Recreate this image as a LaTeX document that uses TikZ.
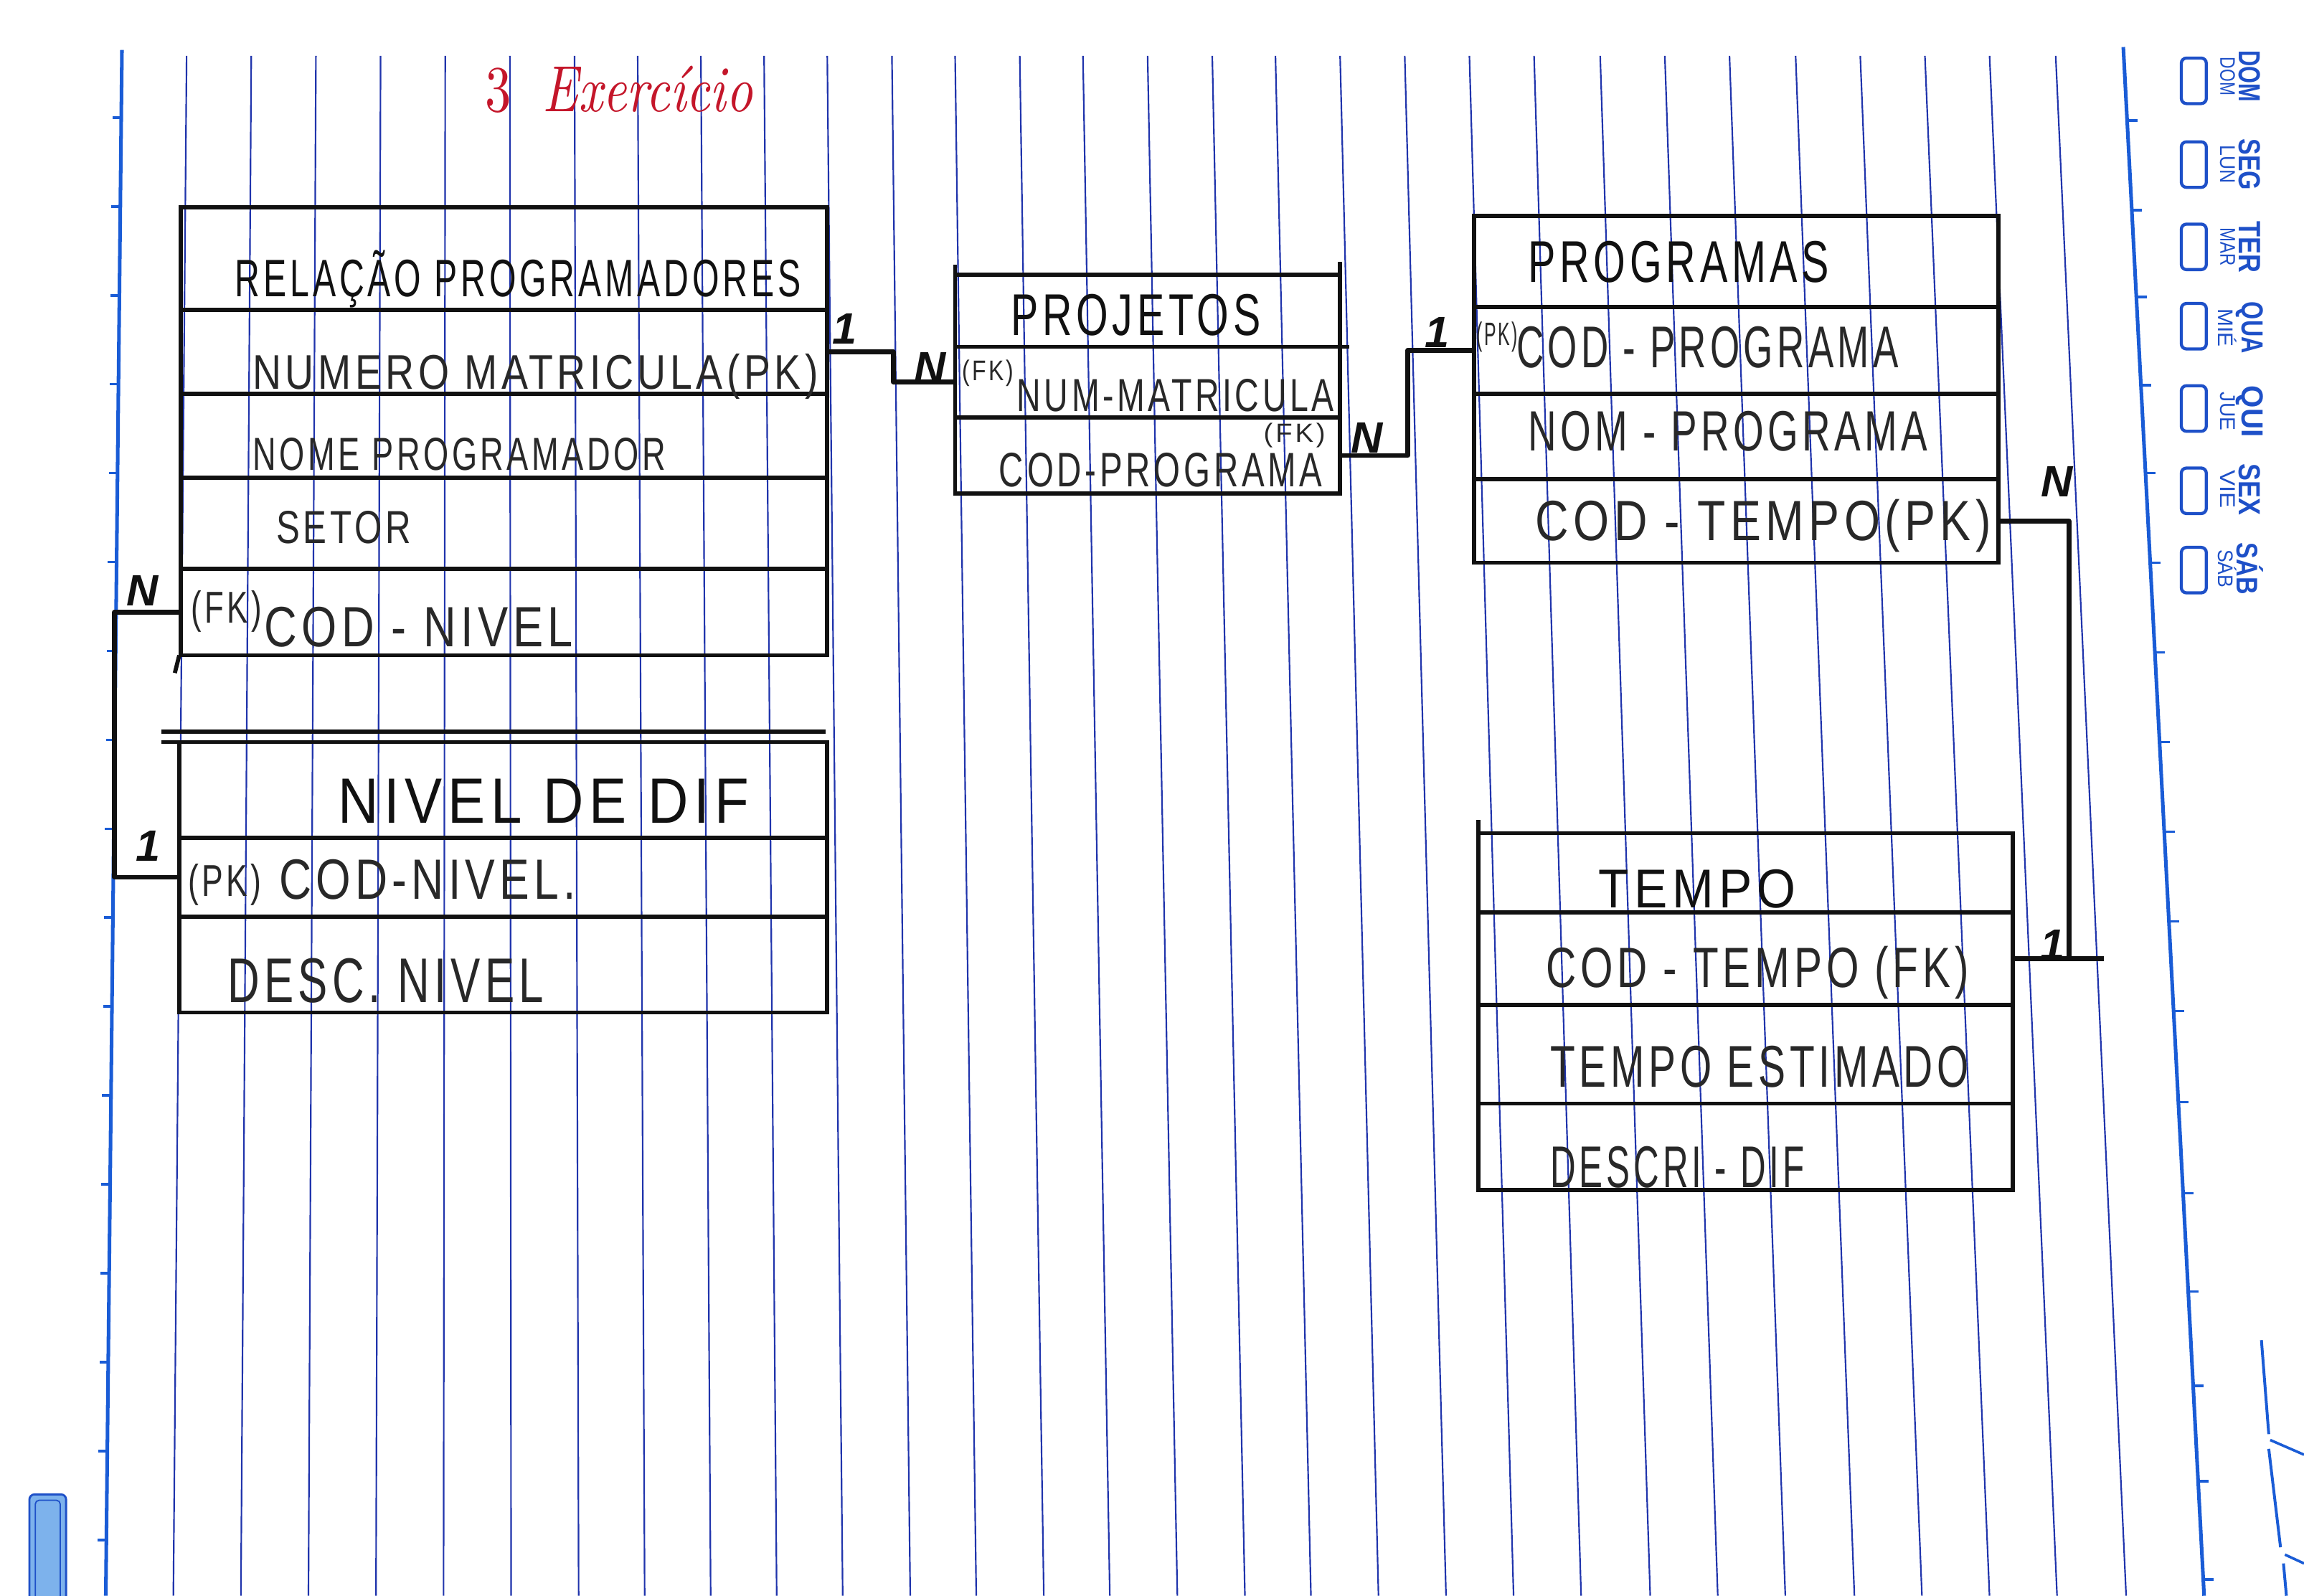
\documentclass[tikz,border=0pt]{standalone}
\usepackage{fontspec}
\usepackage{graphicx}
\newfontfamily\hand[LetterSpace=10]{Liberation Sans}
\newfontfamily\cardfont{Liberation Sans}
\newfontfamily\dayfont{Liberation Sans}
\definecolor{ruleblue}{RGB}{32,52,172}
\definecolor{marginblue}{RGB}{26,92,214}
\definecolor{ink}{RGB}{17,17,17}
\definecolor{pencil}{RGB}{40,40,40}
\definecolor{redink}{RGB}{196,22,42}
\definecolor{stampblue}{RGB}{30,80,200}
\definecolor{stampfill}{RGB}{125,178,236}
% handwritten-looking label fitted to a given width and cap height
\newcommand\hw[3]{\resizebox{#1}{#2}{\hand #3}}
\begin{document}
\begin{tikzpicture}[x=0.02cm,y=-0.02cm,
  row/.style={draw=ink,line width=1.6pt,inner sep=0pt,outer sep=0pt,anchor=north west},
  txt/.style={inner sep=0pt,outer sep=0pt,anchor=base west,text=pencil},
  ttl/.style={txt,text=ink},
  card/.style={inner sep=0pt,text=ink,font=\cardfont\bfseries\itshape\fontsize{17}{17}\selectfont},
  conn/.style={draw=ink,line width=1.9pt,line join=round},
  rule/.style={draw=ruleblue,line width=0.6pt},
  margin/.style={draw=marginblue,line width=1.4pt},
  tick/.style={draw=marginblue,line width=1pt},
  day/.style={text=stampblue,rotate=-90,inner sep=0pt,font=\dayfont\bfseries},
  daybox/.style={draw=stampblue,line width=1.2pt,rounded corners=2pt,minimum width=0.34cm,minimum height=0.62cm,inner sep=0pt}
]
\fill[white] (0,0) rectangle (1568,1086);
\useasboundingbox (0,0) rectangle (1568,1086);

% ---- ruled paper ----
\foreach \x in {127,171,215,259,303,347,391,434,477,520,563,607,650,694,737,781,825,868,912,956,1000,1044,1089,1133,1177,1222,1266,1310,1354,1399}{
  \pgfmathsetmacro\xb{\x-11+(\x-83)/1362*61}
  \draw[rule] (\x,38) -- (\xb,1086);
}
\draw[margin] (83,34) -- (72,1086);
\draw[margin] (1445,32) -- (1500,1086);
\foreach \k in {0,...,16}{
  \pgfmathsetmacro\ty{80+60.5*\k}
  \pgfmathsetmacro\tx{83-(\ty-34)/1052*11}
  \draw[tick] (\tx,\ty) -- ++(-6,0);
}
\foreach \ty in {82,143,202,262,322,383,444,505,566,627,688,750,812,879,943,1008,1075}{
  \pgfmathsetmacro\tx{1445+(\ty-32)/1054*55}
  \draw[tick] (\tx,\ty) -- ++(7,0);
}
% edge strip at the lower right
\draw[rule,line width=1.1pt,draw=marginblue] (1539,912) -- (1544,976);
\draw[rule,line width=1.1pt,draw=marginblue] (1544,986) -- (1552,1053);
\draw[rule,line width=1.1pt,draw=marginblue] (1554,1064) -- (1556,1086);
\draw[rule,line width=1pt,draw=marginblue] (1545,980) -- (1568,990);
\draw[rule,line width=1pt,draw=marginblue] (1555,1058) -- (1568,1064);
% maker's tag, lower left
\draw[draw=stampblue,fill=stampfill,rounded corners=2pt,line width=0.8pt] (20,1017) rectangle (45,1092);
\draw[draw=stampblue,rounded corners=1.5pt,line width=0.5pt] (24,1021) rectangle (41,1092);

% ---- title ----
\node[inner sep=0pt,anchor=base west,text=redink] (title) at (330,76)
  {\resizebox{3.64cm}{0.62cm}{3\hspace{0.6em}\itshape Exercício}};

% ---- table: Relação Programadores ----
\node[row,minimum width=8.8cm,minimum height=1.4cm]  (t1a) at (123,141) {};
\node[row,minimum width=8.8cm,minimum height=1.14cm] (t1b) at (123,211) {};
\node[row,minimum width=8.8cm,minimum height=1.14cm] (t1c) at (123,268) {};
\node[row,minimum width=8.8cm,minimum height=1.24cm] (t1d) at (123,325) {};
\node[row,minimum width=8.8cm,minimum height=1.18cm] (t1e) at (123,387) {};
\draw[ink,line width=1.6pt] (122,446) -- (119,458);
\node[ttl] (t1title) at (160,202) {\hw{7.7cm}{0.63cm}{RELAÇÃO PROGRAMADORES}};
\node[txt] (t1num)  at (172,265) {\hw{7.7cm}{0.48cm}{NUMERO MATRICULA(PK)}};
\node[txt] (t1nome) at (172,320) {\hw{5.62cm}{0.44cm}{NOME PROGRAMADOR}};
\node[txt] (t1set)  at (188,370) {\hw{1.84cm}{0.44cm}{SETOR}};
\node[txt] (t1fk)   at (130,424) {\hw{0.96cm}{0.44cm}{(FK)}};
\node[txt] (t1cod)  at (180,440) {\hw{4.2cm}{0.54cm}{COD - NIVEL}};

% ---- table: Nivel de Dif ----
\draw[ink,line width=1.6pt] (110,498) -- (562,498);
\draw[ink,line width=1.6pt] (110,505) -- (122,505);
\node[row,minimum width=8.82cm,minimum height=1.3cm]  (t2a) at (122,505) {};
\node[row,minimum width=8.82cm,minimum height=1.08cm] (t2b) at (122,570) {};
\node[row,minimum width=8.82cm,minimum height=1.3cm]  (t2c) at (122,624) {};
\node[ttl] (t2title) at (230,560) {\hw{5.6cm}{0.6cm}{NIVEL DE DIF}};
\node[txt] (t2pk)    at (128,610) {\hw{1.0cm}{0.44cm}{(PK)}};
\node[txt] (t2cod)   at (190,612) {\hw{4.04cm}{0.54cm}{COD-NIVEL.}};
\node[txt] (t2desc)  at (155,682) {\hw{4.3cm}{0.6cm}{DESC. NIVEL}};

% ---- table: Projetos ----
\draw[ink,line width=1.6pt] (650,187) -- (650,180);
\draw[ink,line width=1.6pt] (912,187) -- (912,178);
\node[row,minimum width=5.24cm,minimum height=0.98cm] (pja) at (650,187) {};
\node[row,minimum width=5.24cm,minimum height=0.96cm] (pjb) at (650,236) {};
\node[row,minimum width=5.24cm,minimum height=1.04cm] (pjc) at (650,284) {};
\draw[ink,line width=1.6pt] (912,236) -- (918,236);
\node[ttl] (pjtitle) at (688,228) {\hw{3.4cm}{0.56cm}{PROJETOS}};
\node[txt] (pjfka)   at (655,259) {\hw{0.7cm}{0.28cm}{(FK)}};
\node[txt] (pjnum)   at (692,280) {\hw{4.32cm}{0.44cm}{NUM-MATRICULA}};
\node[txt] (pjfkb)   at (860,301) {\hw{0.84cm}{0.26cm}{(FK)}};
\node[txt] (pjcod)   at (680,331) {\hw{4.4cm}{0.46cm}{COD-PROGRAMA}};

% ---- table: Programas ----
\node[row,minimum width=7.14cm,minimum height=1.24cm] (pga) at (1003,147) {};
\node[row,minimum width=7.14cm,minimum height=1.18cm] (pgb) at (1003,209) {};
\node[row,minimum width=7.14cm,minimum height=1.16cm] (pgc) at (1003,268) {};
\node[row,minimum width=7.14cm,minimum height=1.14cm] (pgd) at (1003,326) {};
\node[ttl] (pgtitle) at (1040,192) {\hw{4.1cm}{0.56cm}{PROGRAMAS}};
\node[txt] (pgpk)    at (1005,235) {\hw{0.56cm}{0.32cm}{(PK)}};
\node[txt] (pgcod)   at (1032,250) {\hw{5.2cm}{0.56cm}{COD - PROGRAMA}};
\node[txt] (pgnom)   at (1040,307) {\hw{5.44cm}{0.54cm}{NOM - PROGRAMA}};
\node[txt] (pgtmp)   at (1045,368) {\hw{6.2cm}{0.56cm}{COD - TEMPO(PK)}};

% ---- table: Tempo ----
\draw[ink,line width=1.6pt] (1006,567) -- (1006,558);
\node[row,minimum width=7.28cm,minimum height=1.08cm] (tma) at (1006,567) {};
\node[row,minimum width=7.28cm,minimum height=1.26cm] (tmb) at (1006,621) {};
\node[row,minimum width=7.28cm,minimum height=1.34cm] (tmc) at (1006,684) {};
\node[row,minimum width=7.28cm,minimum height=1.18cm] (tmd) at (1006,751) {};
\node[ttl] (tmtitle) at (1088,618) {\hw{2.68cm}{0.52cm}{TEMPO}};
\node[txt] (tmcod)   at (1052,672) {\hw{5.76cm}{0.56cm}{COD - TEMPO (FK)}};
\node[txt] (tmest)   at (1055,740) {\hw{5.7cm}{0.56cm}{TEMPO ESTIMADO}};
\node[txt] (tmdesc)  at (1055,808) {\hw{3.46cm}{0.56cm}{DESCRI - DIF}};

% ---- relationships ----
\draw[conn] (t1e.west) -- ++(-45,0) |- (t2b.west);
\draw[conn] (t1b.east) -- ++(45,0) |- (pjb.west);
\draw[conn] (pjc.east) -- ++(46,0) |- (pgb.west);
\draw[conn] (pgd.east) -- ++(48,0) |- (tmb.east);
\draw[conn] (tmb.east) -- ++(62,0);
\node[card] (c1n)   at (97,402)   {N};
\node[card] (c1one) at (101,576)  {1};
\node[card] (c2one) at (575,224)  {1};
\node[card] (c2n)   at (633,250)  {N};
\node[card] (c3n)   at (930,298)  {N};
\node[card] (c3one) at (978,226)  {1};
\node[card] (c4n)   at (1400,328) {N};
\node[card] (c4one) at (1397,643) {1};

% ---- weekday stamp ----
\foreach \y/\by/\a/\b/\ha/\hb [count=\i] in
  {52/55/DOM/DOM/0.29/0.2, 112/112/SEG/LUN/0.29/0.2, 168/168/TER/MAR/0.29/0.2,
   223/222/QUA/MIÉ/0.29/0.25, 280/278/QUI/JUE/0.29/0.2, 333/334/SEX/VIE/0.29/0.2,
   387/388/SÁB/SÁB/0.36/0.25}{
  \node[day] (dayA\i) at (1531,\y) {\resizebox{0.7cm}{\ha cm}{\a}};
  \node[day,font=\dayfont] (dayB\i) at (1516,\y) {\resizebox{0.52cm}{\hb cm}{\b}};
  \node[daybox] (dayC\i) at (1493,\by) {};
}
\end{tikzpicture}
\end{document}
